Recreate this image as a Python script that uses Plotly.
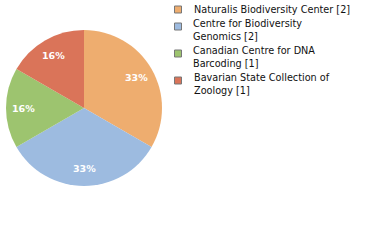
import numpy as np
import plotly.graph_objects as go

W, H = 380, 240

categories = [
    "Naturalis Biodiversity Center [2]",
    "Centre for Biodiversity<br>Genomics [2]",
    "Canadian Centre for DNA<br>Barcoding [1]",
    "Bavarian State Collection of<br>Zoology [1]",
]
values = [2, 2, 1, 1]
slice_labels = ["33%", "33%", "16%", "16%"]
colors = ["#EEAD6F", "#9DBBE0", "#9DC46F", "#DA7459"]

# pie geometry in pixels
CX, CY, R = 84, 108, 78

fig = go.Figure()
fig.add_trace(go.Pie(
    labels=categories,
    values=values,
    textinfo="none",
    marker=dict(colors=colors, line=dict(width=0)),
    sort=False,
    direction="clockwise",
    rotation=0,
    showlegend=False,
    hoverinfo="label+percent",
    domain=dict(x=[(CX - R) / W, (CX + R) / W], y=[1 - (CY + R) / H, 1 - (CY - R) / H]),
))

def px(x):
    return x / W

def py(y):
    return 1 - y / H

annotations = []
shapes = []

# slice labels placed at mid-angle of each slice (clockwise from top)
vals = np.array(values, dtype=float)
cum = np.cumsum(vals) - vals / 2
mid = cum / vals.sum() * 2 * np.pi
for i, lab in enumerate(slice_labels):
    r = 0.77 * R
    x = CX + r * np.sin(mid[i])
    y = CY - r * np.cos(mid[i])
    annotations.append(dict(
        x=px(x), y=py(y), xref="paper", yref="paper",
        xanchor="center", yanchor="middle", text="<b>" + lab + "</b>",
        showarrow=False,
        font=dict(family="DejaVu Sans", size=9.5, color="white"),
    ))

# legend built from categories
square_y = [9.5, 26.5, 53.5, 80.5]
text_y = [2, 15.5, 42.5, 69.5]
for i, cat in enumerate(categories):
    cy = square_y[i]
    shapes.append(dict(
        type="rect", xref="paper", yref="paper",
        x0=px(174.5), x1=px(181.5), y0=py(cy - 3.5), y1=py(cy + 3.5),
        fillcolor=colors[i], line=dict(color="#777777", width=1),
    ))
    annotations.append(dict(
        x=px(191.5), y=py(text_y[i]), xref="paper", yref="paper",
        xanchor="left", yanchor="top", align="left",
        text=cat, showarrow=False,
        font=dict(family="DejaVu Sans", size=9.7, color="#111111"),
    ))

fig.update_layout(
    width=W, height=H,
    margin=dict(l=0, r=0, t=0, b=0),
    paper_bgcolor="white", plot_bgcolor="white",
    shapes=shapes, annotations=annotations,
)

fig.write_html("out.html")
